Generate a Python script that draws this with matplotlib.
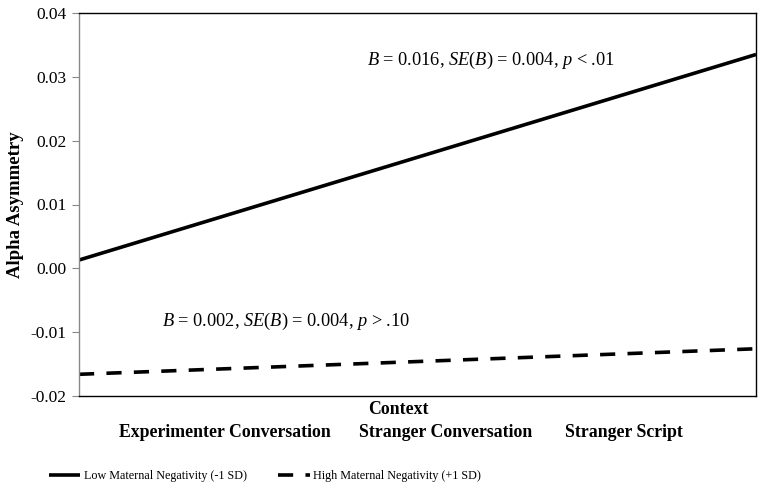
# simple slopes plot: alpha asymmetry across context, by maternal negativity
import matplotlib
matplotlib.use("Agg")
import matplotlib.pyplot as plt
from matplotlib import font_manager

# DATA
context_levels = [-1, 0, 1]  # coded context (line spans the whole axis)
low_neg = [0.0013, 0.0174, 0.0335]  # Low Maternal Negativity (-1 SD)
high_neg = [-0.0166, -0.0146, -0.0126]  # High Maternal Negativity (+1 SD)
categories = ["Experimenter Conversation", "Stranger Conversation", "Stranger Script"]
series_names = ["Low Maternal Negativity (-1 SD)", "High Maternal Negativity (+1 SD)"]
y_ticks = [-0.02, -0.01, 0.00, 0.01, 0.02, 0.03, 0.04]

# label positions (as typed in the original figure, not evenly spaced)
cat_pos = [-0.568, 0.083, 0.609]

plt.rcParams["font.family"] = ["Liberation Serif", "DejaVu Serif"]
plt.rcParams["mathtext.fontset"] = "custom"
plt.rcParams["mathtext.rm"] = "Liberation Serif"
plt.rcParams["mathtext.it"] = "Liberation Serif:italic"

# condensed font for the legend if it is there
names = {f.name for f in font_manager.fontManager.ttflist}
if "Liberation Sans Narrow" in names:
    legend_font = {"family": "Liberation Sans Narrow", "size": 11.5}
else:
    legend_font = {"family": "Liberation Serif", "size": 8.7}

fig = plt.figure(figsize=(7.64, 4.93), dpi=100)
ax = fig.add_axes([79 / 764, 1 - 396 / 493, 677 / 764, 383 / 493])

l1, = ax.plot(context_levels, low_neg, color="black", lw=2.6, solid_capstyle="butt",
              label=series_names[0])
l2, = ax.plot(context_levels, high_neg, color="black", lw=2.6, dashes=(4.2, 3.4),
              dash_capstyle="butt", label=series_names[1])

ax.set_xlim(-1, 1)
ax.set_ylim(-0.02, 0.04)
ax.set_yticks(y_ticks)
ax.set_yticklabels([f"{v:.2f}" for v in y_ticks], fontsize=12.5)
ax.set_xticks(cat_pos)
ax.set_xticklabels(categories, fontsize=12.8, fontweight="bold")
ax.tick_params(axis="x", length=0, pad=20)
ax.tick_params(axis="y", length=5, color="#888888", direction="out", pad=4)

for side in ["top", "right", "bottom"]:
    ax.spines[side].set_color("black")
    ax.spines[side].set_linewidth(1.0)
ax.spines["left"].set_color("#888888")
ax.spines["left"].set_linewidth(1.0)

ax.set_ylabel("Alpha Asymmetry", fontsize=13.5, fontweight="bold", labelpad=5)
fig.text(398 / 764, 1 - 410 / 493, "Context", fontsize=12.8, fontweight="bold",
         ha="center", va="center")

# slope annotations
ax.text(0.426, 0.876, r"$B$ = 0.016, $SE$($B$) = 0.004, $p$ < .01", transform=ax.transAxes,
        fontsize=13.2, ha="left", va="center")
ax.text(0.122, 0.194, r"$B$ = 0.002, $SE$($B$) = 0.004, $p$ > .10", transform=ax.transAxes,
        fontsize=13.2, ha="left", va="center")

fig.legend(handles=[l1, l2], loc="center", bbox_to_anchor=(265 / 764, 1 - 476 / 493),
           ncol=2, frameon=False, prop=legend_font, handlelength=2.6, columnspacing=2.6,
           handletextpad=0.3)

fig.savefig("out.png", dpi=100)
